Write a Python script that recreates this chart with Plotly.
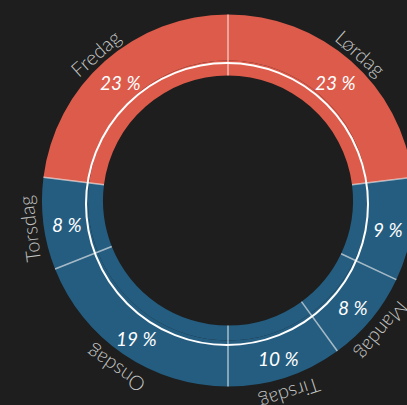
import math
import plotly.graph_objects as go

# share of sessions per weekday (percent)
days = ["Mandag", "Tirsdag", "Onsdag", "Torsdag", "Fredag", "Lørdag", "Søndag"]
shares = [8, 10, 19, 8, 23, 23, 9]
weekend = ["Fredag", "Lørdag"]

RED = "#dc5b4b"
BLUE = "#245d80"
BG = "#1d1e1d"

W, H = 456, 405
CX, CY = 228, 204.5      # pie centre, px from left / from bottom
R_OUT, R_MID, R_IN = 186, 140, 125
R_LABEL = 201
R_PCT = 162

colors = [RED if d in weekend else BLUE for d in days]
total = sum(shares)
# Mandag should start right after Lørdag + Søndag when going clockwise from 12
start = 360 * (shares[5] + shares[6]) / total


def dom(r, c, size):
    return [(c - r) / size, (c + r) / size]


def polar(r, deg):
    a = math.radians(deg)
    return (CX + r * math.sin(a)) / W, (CY + r * math.cos(a)) / H


fig = go.Figure()

fig.add_trace(go.Pie(
    labels=days, values=shares, sort=False, direction="clockwise", rotation=start,
    marker=dict(colors=colors, line=dict(width=0)),
    hole=R_MID / R_OUT,
    domain=dict(x=dom(R_OUT, CX, W), y=dom(R_OUT, CY, H)),
    textinfo="none", showlegend=False, hoverinfo="label+percent",
))
fig.add_trace(go.Pie(
    labels=days, values=shares, sort=False, direction="clockwise", rotation=start,
    marker=dict(colors=colors, line=dict(width=0)),
    hole=R_IN / R_MID,
    domain=dict(x=dom(R_MID, CX, W), y=dom(R_MID, CY, H)),
    textinfo="none", showlegend=False, hoverinfo="skip",
))

shapes = [dict(type="circle", xref="paper", yref="paper",
               x0=(CX - 1 - 141) / W, x1=(CX - 1 + 141) / W,
               y0=(CY - 3.5 - 141) / H, y1=(CY - 3.5 + 141) / H,
               line=dict(color="white", width=2))]
annotations = []
cum = 0
for day, v in zip(days, shares):
    a0 = start + 360 * cum / total
    x0, y0 = polar(R_IN, a0)
    x1, y1 = polar(R_OUT, a0)
    shapes.append(dict(type="line", xref="paper", yref="paper", x0=x0, y0=y0, x1=x1, y1=y1,
                       line=dict(color="rgba(255,255,255,0.6)", width=1.5)))
    mid = start + 360 * (cum + v / 2) / total
    lx, ly = polar(R_LABEL, mid)
    annotations.append(dict(
        text=day, xref="paper", yref="paper", showarrow=False, x=lx, y=ly, yshift=-3,
        xanchor="center", yanchor="middle", textangle=(mid + 180) % 360 - 180,
        font=dict(family="Lato Light, Lato", size=20, color="#c4c4c4", weight=300),
    ))
    px, py = polar(R_PCT, mid)
    annotations.append(dict(
        text=f"{v} %", xref="paper", yref="paper", showarrow=False, x=px, y=py, yshift=-4,
        xanchor="center", yanchor="middle",
        font=dict(family="Lato", size=19, color="white", style="italic", weight=400),
    ))
    cum += v

fig.update_layout(
    width=W, height=H,
    margin=dict(l=0, r=0, t=0, b=0),
    paper_bgcolor=BG, plot_bgcolor=BG,
    shapes=shapes, annotations=annotations,
)

fig.write_html("out.html", config={"displayModeBar": False},
               post_script="document.body.style.margin='0';document.body.style.overflow='hidden';")
